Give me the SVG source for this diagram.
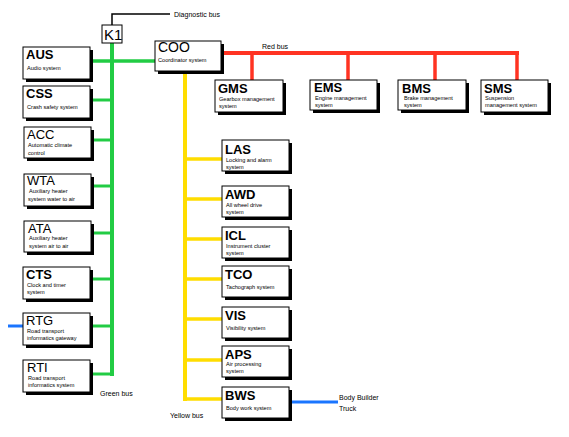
<svg xmlns="http://www.w3.org/2000/svg" width="569" height="437" viewBox="0 0 569 437">
<style>
.sh{fill:#000}
.bx{fill:#fff;stroke:#000;stroke-width:1}
.t{font-family:"Liberation Sans",Arial,sans-serif;font-size:13px;fill:#000}
.b{font-weight:bold}
.s{font-family:"Liberation Sans",Arial,sans-serif;font-size:5.6px;fill:#000}
.l{font-family:"Liberation Sans",Arial,sans-serif;font-size:7px;fill:#000}
.g{stroke:#22cc44;fill:none}
.r{stroke:#ff3322;fill:none}
.y{stroke:#ffdd00;fill:none}
.bl{stroke:#1a75ff;fill:none;stroke-width:3}
</style>
<rect width="569" height="437" fill="#fff"/>
<g id="connectors">
<polyline points="112,25 112,14 170,14" fill="none" stroke="#000" stroke-width="1.5"/>
<line class="g" x1="112" y1="43" x2="112" y2="376" stroke-width="4"/>
<line class="g" x1="90" y1="61" x2="155" y2="61" stroke-width="3.5"/>
<line class="g" x1="90" y1="100" x2="112" y2="100" stroke-width="3"/>
<line class="g" x1="90" y1="140" x2="112" y2="140" stroke-width="3"/>
<line class="g" x1="90" y1="186" x2="112" y2="186" stroke-width="3"/>
<line class="g" x1="90" y1="233" x2="112" y2="233" stroke-width="3"/>
<line class="g" x1="90" y1="279" x2="112" y2="279" stroke-width="3"/>
<line class="g" x1="90" y1="326" x2="112" y2="326" stroke-width="3"/>
<line class="g" x1="90" y1="374" x2="114" y2="374" stroke-width="3"/>
<line class="r" x1="221" y1="53" x2="519" y2="53" stroke-width="4"/>
<line class="r" x1="252" y1="53" x2="252" y2="80" stroke-width="3.5"/>
<line class="r" x1="348" y1="53" x2="348" y2="80" stroke-width="3.5"/>
<line class="r" x1="435" y1="53" x2="435" y2="80" stroke-width="3.5"/>
<line class="r" x1="517" y1="53" x2="517" y2="80" stroke-width="3.5"/>
<line class="y" x1="185" y1="71" x2="185" y2="401" stroke-width="4"/>
<line class="y" x1="185" y1="159" x2="222" y2="159" stroke-width="3.5"/>
<line class="y" x1="185" y1="199" x2="222" y2="199" stroke-width="3.5"/>
<line class="y" x1="185" y1="239" x2="222" y2="239" stroke-width="3.5"/>
<line class="y" x1="185" y1="279" x2="222" y2="279" stroke-width="3.5"/>
<line class="y" x1="185" y1="319" x2="222" y2="319" stroke-width="3.5"/>
<line class="y" x1="185" y1="360" x2="222" y2="360" stroke-width="3.5"/>
<line class="y" x1="183" y1="399" x2="222" y2="399" stroke-width="3.5"/>
<line class="bl" x1="289" y1="402" x2="338" y2="402"/>
<line class="bl" x1="8" y1="326" x2="25" y2="326"/>
</g>
<g id="labels">
<text class="l" x="174" y="17">Diagnostic bus</text>
<text class="l" x="262" y="49">Red bus</text>
<text class="l" x="100" y="396">Green bus</text>
<text class="l" x="170" y="418">Yellow bus</text>
<text class="l" x="339" y="400">Body Builder</text>
<text class="l" x="339" y="411">Truck</text>
</g>
<g id="K1">
<rect class="bx" x="102" y="25" width="20" height="18" stroke-width="1.5"/>
<text class="t" x="104" y="40" style="font-size:15px">K1</text>
</g>
<g id="AUS"><rect class="sh" x="26" y="50" width="67" height="32"/><rect class="bx" x="23" y="47" width="67" height="32"/><text class="t b" x="26" y="59">AUS</text><text class="s" x="27" y="70">Audio system</text></g>
<g id="CSS"><rect class="sh" x="26" y="89" width="67" height="32"/><rect class="bx" x="23" y="86" width="67" height="32"/><text class="t b" x="26" y="98">CSS</text><text class="s" x="27" y="109">Crash safety system</text></g>
<g id="ACC"><rect class="sh" x="27" y="130" width="67" height="31"/><rect class="bx" x="24" y="127" width="67" height="31"/><text class="t" x="27" y="139">ACC</text><text class="s" x="28" y="147">Automatic climate</text><text class="s" x="28" y="155">control</text></g>
<g id="WTA"><rect class="sh" x="27" y="177" width="67" height="32"/><rect class="bx" x="24" y="174" width="67" height="32"/><text class="t" x="27" y="185">WTA</text><text class="s" x="29" y="193">Auxiliary heater</text><text class="s" x="28" y="201">system water to air</text></g>
<g id="ATA"><rect class="sh" x="27" y="224" width="67" height="31"/><rect class="bx" x="24" y="221" width="67" height="31"/><text class="t" x="28" y="233">ATA</text><text class="s" x="29" y="240">Auxiliary heater</text><text class="s" x="29" y="248">system air to air</text></g>
<g id="CTS"><rect class="sh" x="26" y="270" width="67" height="32"/><rect class="bx" x="23" y="267" width="67" height="32"/><text class="t b" x="26" y="279">CTS</text><text class="s" x="27" y="287">Clock and timer</text><text class="s" x="27" y="294">system</text></g>
<g id="RTG"><rect class="sh" x="26" y="316" width="67" height="32"/><rect class="bx" x="23" y="313" width="67" height="32"/><text class="t" x="26" y="325">RTG</text><text class="s" x="27" y="333">Road transport</text><text class="s" x="27" y="340">informatics gateway</text></g>
<g id="RTI"><rect class="sh" x="26" y="363" width="67" height="32"/><rect class="bx" x="23" y="360" width="67" height="32"/><text class="t" x="27" y="372">RTI</text><text class="s" x="28" y="380">Road transport</text><text class="s" x="28" y="387">informatics system</text></g>
<g id="COO"><rect class="sh" x="158" y="44" width="66" height="30"/><rect class="bx" x="155" y="41" width="66" height="30"/><text class="t" x="158" y="52" style="font-size:14px">COO</text><text class="s" x="158" y="62">Coordinator system</text></g>
<g id="GMS"><rect class="sh" x="218" y="83" width="68" height="32"/><rect class="bx" x="215" y="80" width="68" height="32"/><text class="t b" x="218" y="93">GMS</text><text class="s" x="219" y="101">Gearbox management</text><text class="s" x="219" y="108">system</text></g>
<g id="EMS"><rect class="sh" x="313" y="83" width="67" height="30"/><rect class="bx" x="310" y="80" width="67" height="30"/><text class="t b" x="314" y="92">EMS</text><text class="s" x="315" y="100">Engine management</text><text class="s" x="315" y="107">system</text></g>
<g id="BMS"><rect class="sh" x="401" y="83" width="68" height="30"/><rect class="bx" x="398" y="80" width="68" height="30"/><text class="t b" x="402" y="93">BMS</text><text class="s" x="404" y="100">Brake management</text><text class="s" x="404" y="107">system</text></g>
<g id="SMS"><rect class="sh" x="484" y="83" width="67" height="32"/><rect class="bx" x="481" y="80" width="67" height="32"/><text class="t b" x="484" y="93">SMS</text><text class="s" x="485" y="100">Suspension</text><text class="s" x="485" y="107">management   system</text></g>
<g id="LAS"><rect class="sh" x="225" y="143" width="67" height="31"/><rect class="bx" x="222" y="140" width="67" height="31"/><text class="t b" x="225" y="154">LAS</text><text class="s" x="226" y="162">Locking and alarm</text><text class="s" x="226" y="169">system</text></g>
<g id="AWD"><rect class="sh" x="225" y="189" width="67" height="31"/><rect class="bx" x="222" y="186" width="67" height="31"/><text class="t b" x="225" y="199">AWD</text><text class="s" x="226" y="207">All wheel drive</text><text class="s" x="226" y="214">system</text></g>
<g id="ICL"><rect class="sh" x="225" y="230" width="67" height="31"/><rect class="bx" x="222" y="227" width="67" height="31"/><text class="t b" x="225" y="240">ICL</text><text class="s" x="226" y="248">Instrument cluster</text><text class="s" x="226" y="255">system</text></g>
<g id="TCO"><rect class="sh" x="225" y="269" width="67" height="31"/><rect class="bx" x="222" y="266" width="67" height="31"/><text class="t b" x="225" y="279">TCO</text><text class="s" x="226" y="289">Tachograph  system</text></g>
<g id="VIS"><rect class="sh" x="225" y="310" width="67" height="31"/><rect class="bx" x="222" y="307" width="67" height="31"/><text class="t b" x="225" y="320">VIS</text><text class="s" x="226" y="330">Visibility  system</text></g>
<g id="APS"><rect class="sh" x="225" y="349" width="67" height="31"/><rect class="bx" x="222" y="346" width="67" height="31"/><text class="t b" x="225" y="359">APS</text><text class="s" x="226" y="366">Air processing</text><text class="s" x="226" y="373">system</text></g>
<g id="BWS"><rect class="sh" x="225" y="390" width="67" height="31"/><rect class="bx" x="222" y="387" width="67" height="31"/><text class="t b" x="225" y="400">BWS</text><text class="s" x="226" y="410">Body work system</text></g>
</svg>
